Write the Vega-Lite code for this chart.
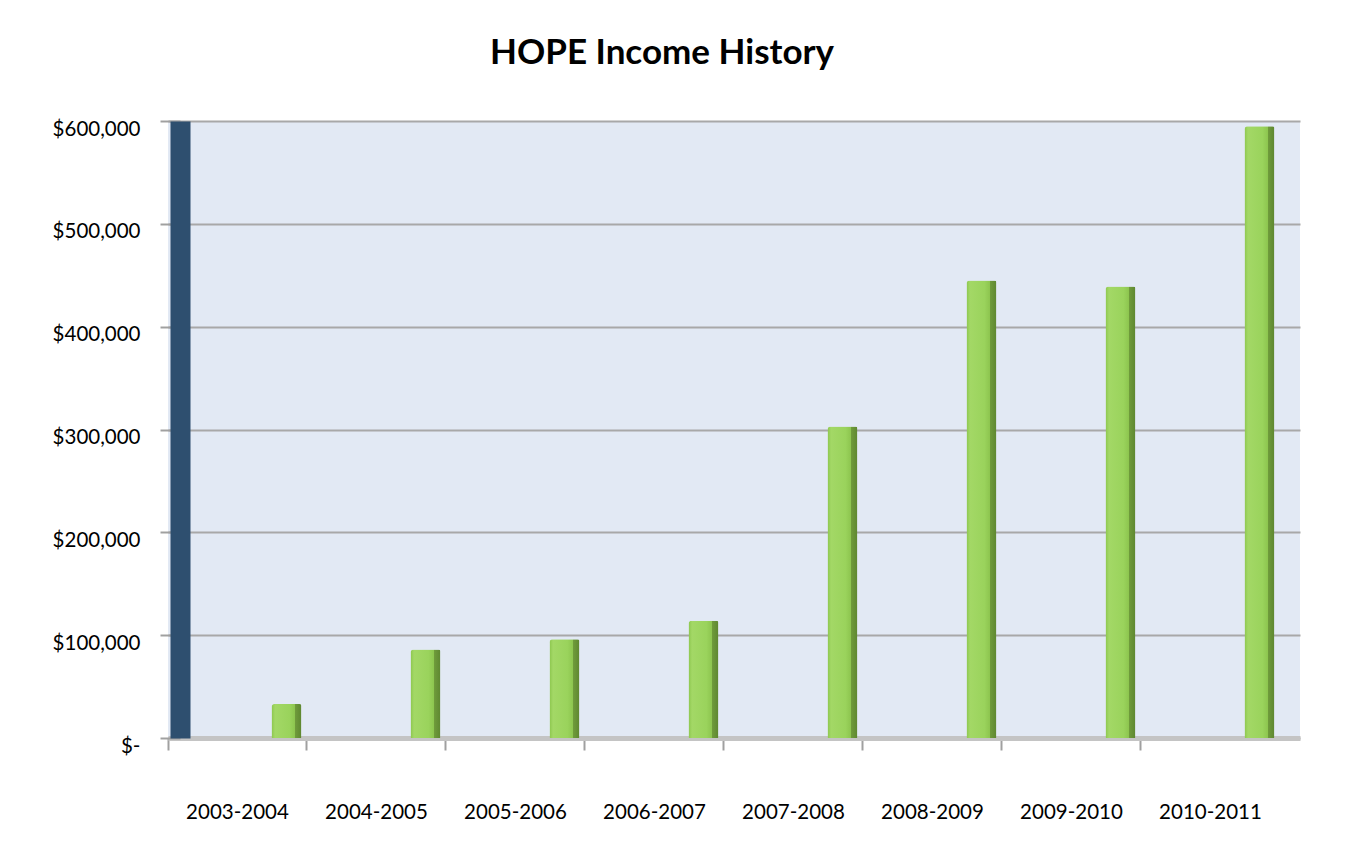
{
  "$schema": "https://vega.github.io/schema/vega-lite/v6.json",
  "autosize": "none",
  "width": 1132,
  "height": 617,
  "padding": {"left": 168, "top": 121, "right": 49, "bottom": 111},
  "background": "white",
  "title": {
    "text": "HOPE Income History",
    "font": "Lato",
    "fontSize": 35,
    "fontWeight": "bold",
    "color": "black",
    "anchor": "middle",
    "frame": "group",
    "dx": -72,
    "baseline": "alphabetic",
    "offset": 20
  },
  "data": {
    "values": [
      {"year": "2003-2004", "income": 33000},
      {"year": "2004-2005", "income": 86000},
      {"year": "2005-2006", "income": 96000},
      {"year": "2006-2007", "income": 114000},
      {"year": "2007-2008", "income": 303000},
      {"year": "2008-2009", "income": 445000},
      {"year": "2009-2010", "income": 439000},
      {"year": "2010-2011", "income": 595000}
    ]
  },
  "mark": {
    "type": "bar",
    "size": 30,
    "xOffset": 49,
    "cornerRadiusTopLeft": 3,
    "cornerRadiusTopRight": 2,
    "color": {
      "gradient": "linear",
      "x1": 0, "y1": 0, "x2": 1, "y2": 0,
      "stops": [
        {"offset": 0, "color": "#8CC64E"},
        {"offset": 0.12, "color": "#A3D866"},
        {"offset": 0.6, "color": "#9AD35C"},
        {"offset": 0.78, "color": "#8DC54F"},
        {"offset": 0.79, "color": "#6F9B3B"},
        {"offset": 1, "color": "#5E8730"}
      ]
    }
  },
  "encoding": {
    "x": {
      "field": "year",
      "type": "nominal",
      "sort": null,
      "scale": {"paddingInner": 0, "paddingOuter": 0.072, "align": 0},
      "axis": {
        "title": null,
        "bandPosition": 0,
        "labelAngle": 0,
        "labelFont": "Lato",
        "labelFontSize": 20.5,
        "labelColor": "black",
        "labelPadding": 52,
        "tickSize": 12,
        "tickColor": "#A0A0A0",
        "tickWidth": 2,
        "domainColor": "#C4C4C4",
        "domainWidth": 5,
        "grid": false
      }
    },
    "y": {
      "field": "income",
      "type": "quantitative",
      "scale": {"domain": [0, 600000], "nice": false},
      "axis": {
        "title": null,
        "values": [0, 100000, 200000, 300000, 400000, 500000, 600000],
        "labelExpr": "datum.value == 0 ? '$-' : '$' + format(datum.value, ',')",
        "labelFont": "Lato",
        "labelFontSize": 20.5,
        "labelColor": "black",
        "labelOffset": 8,
        "labelPadding": 20,
        "offset": -12,
        "tickSize": 20,
        "tickColor": "#A0A0A0",
        "tickWidth": 2,
        "domainColor": "#2E4F6F",
        "domainWidth": 20,
        "grid": true,
        "gridColor": "#A8A8A8",
        "gridWidth": 2
      }
    }
  },
  "config": {
    "view": {"fill": "#E2E9F4", "stroke": null}
  }
}
